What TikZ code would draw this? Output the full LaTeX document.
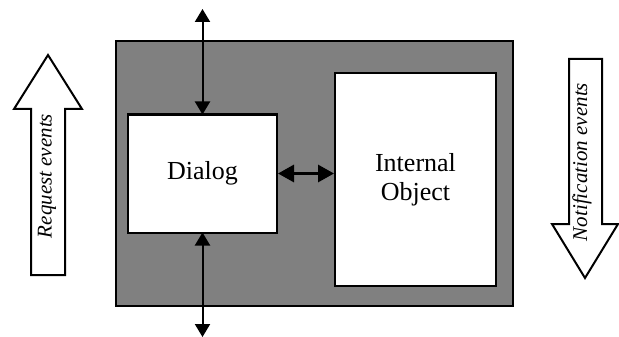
\documentclass[tikz,border=0pt]{standalone}
\usepackage{fontspec}
\setmainfont{Liberation Serif}
\usetikzlibrary{arrows.meta}
\begin{document}
\begin{tikzpicture}[x=1pt,y=-1pt,
  box/.style={draw=black,line width=2pt,fill=white,inner sep=0pt,align=center,font=\fontsize{26}{29}\selectfont},
  thinarrow/.style={line width=2pt,{Triangle[length=13pt,width=15pt]}-{Triangle[length=13pt,width=15pt]}},
  thickarrow/.style={line width=3pt,{Triangle[length=16pt,width=17pt]}-{Triangle[length=16pt,width=17pt]}},
  blockarrow/.style={draw=black,line width=2pt,fill=white,line join=miter},
  evtext/.style={font=\fontsize{21}{24}\selectfont\itshape,rotate=90,inner sep=0pt}]
\useasboundingbox (0,0) rectangle (619,337);
% gray frame
\node[draw=black,line width=2pt,fill=gray,minimum width=397pt,minimum height=265pt,inner sep=0pt] (frame) at (314.5,173.5) {};
\node[box,minimum width=149pt,minimum height=118pt] (dialog) at (202.5,173.5) {Dialog};
\node[box,minimum width=161pt,minimum height=213pt] (obj) at (415.5,179.5) {Internal\\Object};
% connectors
\coordinate (top) at (202.5,9);
\coordinate (bot) at (202.5,337);
\draw[thinarrow] (top) -- ([yshift=-1pt]dialog.north);
\draw[thinarrow] ([yshift=1pt]dialog.south) -- (bot);
\draw[thickarrow] (dialog.east) -- (dialog.east -| obj.west);
% block arrows
\draw[blockarrow] (31,275) -- (31,109) -- (14,109) -- (48,55) -- (82,109) -- (65,109) -- (65,275) -- cycle;
\node[evtext] (req) at (47,176) {Request events};
\draw[blockarrow] (569,59) -- (569,224) -- (552,224) -- (585,278) -- (618,224) -- (602,224) -- (602,59) -- cycle;
\node[evtext] (notif) at (582,162) {Notification events};
\end{tikzpicture}
\end{document}
